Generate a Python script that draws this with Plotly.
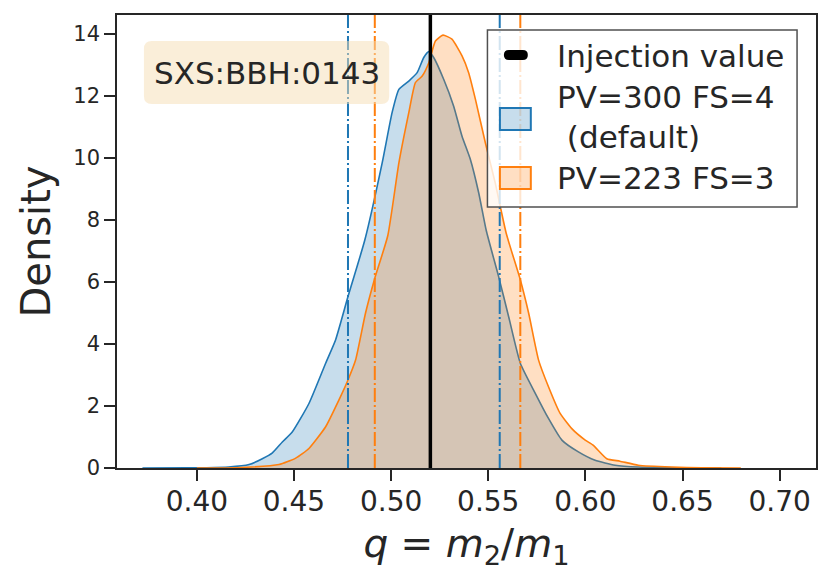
import plotly.graph_objects as go

# posterior density of q for the two settings
q_default = [0.372, 0.395, 0.405, 0.4163, 0.4269, 0.4337, 0.4389, 0.444, 0.4491, 0.4577,
             0.4663, 0.4714, 0.4778, 0.4865, 0.4954, 0.5005, 0.504, 0.5091, 0.5134, 0.5168,
             0.5194, 0.5219, 0.5271, 0.5322, 0.5365, 0.5408, 0.5451, 0.549, 0.5553, 0.5605,
             0.5665, 0.5742, 0.581, 0.5879, 0.5964, 0.605, 0.6153, 0.6272, 0.645, 0.67]
dens_default = [0.0, 0.005, 0.01, 0.03, 0.11, 0.30, 0.49, 0.84, 1.16, 2.08,
                3.38, 4.13, 5.53, 7.36, 9.84, 11.46, 12.21, 12.48, 12.75, 13.24,
                13.43, 13.24, 12.53, 11.67, 10.70, 9.95, 8.87, 7.65, 6.18, 4.88,
                3.38, 2.41, 1.60, 0.90, 0.52, 0.25, 0.09, 0.03, 0.01, 0.0]

q_alt = [0.40, 0.42, 0.4423, 0.4509, 0.4577, 0.4663, 0.4731, 0.4778, 0.4817, 0.4868,
         0.4916, 0.4983, 0.504, 0.5091, 0.5125, 0.516, 0.5194, 0.5228, 0.5267, 0.5313,
         0.5365, 0.5399, 0.5434, 0.5485, 0.5536, 0.5592, 0.5665, 0.5708, 0.5759, 0.581,
         0.587, 0.593, 0.5999, 0.6041, 0.611, 0.6178, 0.6272, 0.6444, 0.66, 0.68]
dens_alt = [0.0, 0.01, 0.11, 0.32, 0.63, 1.33, 2.19, 2.84, 3.48, 4.99,
            6.12, 7.5, 9.84, 11.46, 12.43, 12.64, 13.07, 13.77, 13.96, 13.83,
            13.29, 12.75, 11.89, 10.49, 9.19, 7.58, 6.07, 4.99, 3.48, 2.62,
            1.76, 1.27, 0.90, 0.73, 0.30, 0.22, 0.09, 0.03, 0.01, 0.0]

injection = 0.5202
ci_default = [0.4778, 0.5559]
ci_alt = [0.4916, 0.5665]

labels = ["Injection value", "PV=300 FS=4<br> (default)", "PV=223 FS=3"]
xticks = [0.40, 0.45, 0.50, 0.55, 0.60, 0.65, 0.70]
yticks = [0, 2, 4, 6, 8, 10, 12, 14]

blue = "#1f77b4"
orange = "#ff7f0e"
ink = "#262626"
blue_fill = "rgba(31,119,180,0.25)"
orange_fill = "rgba(255,127,14,0.25)"

# plot area on screen (px): left 117, right 818, top 15, bottom 468
def pp(X, Y):
    return (X - 117) / 701, (468 - Y) / 453


fig = go.Figure()

fig.add_trace(go.Scatter(x=q_default, y=dens_default, mode="lines", fill="tozeroy",
                         line=dict(color=blue, width=1.6, shape="spline", smoothing=0.5),
                         fillcolor=blue_fill, showlegend=False))
fig.add_trace(go.Scatter(x=q_alt, y=dens_alt, mode="lines", fill="tozeroy",
                         line=dict(color=orange, width=1.6, shape="spline", smoothing=0.5),
                         fillcolor=orange_fill, showlegend=False))

# credible interval lines and injection
dash = "14px,3px,2px,3px"
for v in ci_default:
    fig.add_shape(type="line", xref="x", yref="paper", x0=v, x1=v, y0=0, y1=1,
                  line=dict(color=blue, width=2, dash=dash))
for v in ci_alt:
    fig.add_shape(type="line", xref="x", yref="paper", x0=v, x1=v, y0=0, y1=1,
                  line=dict(color=orange, width=2, dash=dash))
fig.add_shape(type="line", xref="x", yref="paper", x0=injection, x1=injection, y0=0, y1=1,
              line=dict(color="black", width=3.5))


def rounded(xa, ya, xb, yb, r):
    # rounded rectangle in paper coords, corners given in screen px
    x0, y0 = pp(xa, yb)
    x1, y1 = pp(xb, ya)
    rx, ry = r / 701, r / 453
    return (f"M{x0+rx},{y0} L{x1-rx},{y0} Q{x1},{y0} {x1},{y0+ry} L{x1},{y1-ry} "
            f"Q{x1},{y1} {x1-rx},{y1} L{x0+rx},{y1} Q{x0},{y1} {x0},{y1-ry} "
            f"L{x0},{y0+ry} Q{x0},{y0} {x0+rx},{y0} Z")


# label box
fig.add_shape(type="path", xref="paper", yref="paper", path=rounded(144, 41, 390, 104, 8),
              fillcolor="rgba(245,222,179,0.5)", line=dict(width=0), layer="above")
cx, cy = pp(267, 73)
fig.add_annotation(text="SXS:BBH:0143", xref="paper", yref="paper", x=cx, y=cy,
                   xanchor="center", yanchor="middle", showarrow=False,
                   font=dict(size=31, color=ink))

# legend, drawn by hand so the handles match the original size
lx0, ly0 = pp(488.5, 207)
lx1, ly1 = pp(799, 30)
fig.add_shape(type="rect", xref="paper", yref="paper", x0=lx0, y0=ly0, x1=lx1, y1=ly1,
              fillcolor="rgba(255,255,255,0.8)", line=dict(color="#505050", width=1.5),
              layer="above")
fig.add_shape(type="path", xref="paper", yref="paper", path=rounded(505, 50, 529, 60, 5),
              fillcolor="black", line=dict(width=0), layer="above")
bx0, by0 = pp(501, 130)
bx1, by1 = pp(532, 108)
fig.add_shape(type="rect", xref="paper", yref="paper", x0=bx0, y0=by0, x1=bx1, y1=by1,
              fillcolor=blue_fill, line=dict(color=blue, width=2), layer="above")
ox0, oy0 = pp(501, 189)
ox1, oy1 = pp(532, 167)
fig.add_shape(type="rect", xref="paper", yref="paper", x0=ox0, y0=oy0, x1=ox1, y1=oy1,
              fillcolor=orange_fill, line=dict(color=orange, width=2), layer="above")
for text, ty in zip(labels, [56, 117, 178]):
    tx, tyy = pp(556, ty)
    fig.add_annotation(text=text, xref="paper", yref="paper", x=tx, y=tyy,
                       xanchor="left", yanchor="middle", align="left", showarrow=False,
                       font=dict(size=31, color=ink))

# page body adds an 8px offset, so the figure is sized to fit the window
fig.update_layout(
    width=813, height=570,
    margin=dict(l=109, r=3, t=7, b=110),
    paper_bgcolor="white", plot_bgcolor="white",
    font=dict(family="DejaVu Sans", color=ink),
    showlegend=False,
    xaxis=dict(range=[0.3589, 0.7187], tickvals=xticks, tickformat=".2f",
               ticks="outside", ticklen=11, tickwidth=1.5, tickcolor=ink,
               showline=True, linecolor=ink, linewidth=1.5, mirror=True,
               showgrid=False, zeroline=False, tickfont=dict(size=28),
               ticklabelstandoff=-3,
               title=dict(text="<i>q</i> = <i>m</i><sub>2</sub>/<i>m</i><sub>1</sub>",
                          font=dict(size=39), standoff=12)),
    yaxis=dict(range=[0, 14.61], tickvals=yticks,
               ticks="outside", ticklen=11, tickwidth=1.5, tickcolor=ink,
               showline=True, linecolor=ink, linewidth=1.5, mirror=True,
               showgrid=False, zeroline=False, tickfont=dict(size=21),
               title=dict(text="Density", font=dict(size=40), standoff=10)),
)

fig.write_html("out.html")
